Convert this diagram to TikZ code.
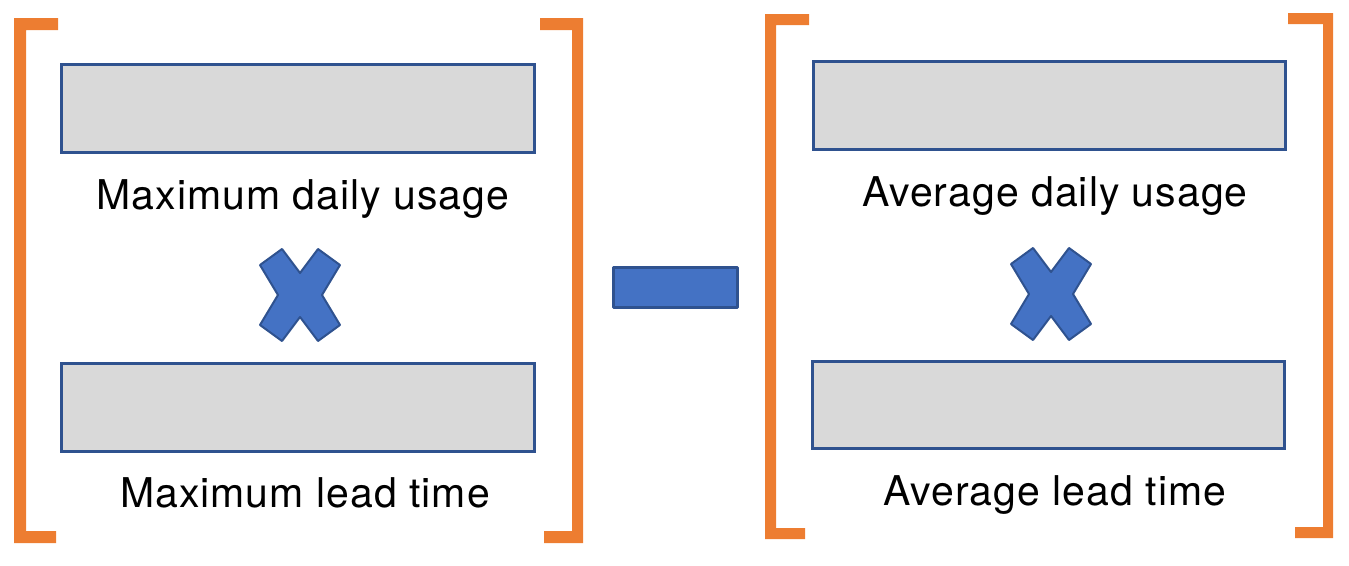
\documentclass[tikz,border=0pt]{standalone}
\usepackage{fontspec}
\setmainfont{TeX Gyre Heros}[LetterSpace=2.5]
\definecolor{brk}{HTML}{ED7D31}
\definecolor{edge}{HTML}{2F528F}
\definecolor{boxfill}{HTML}{D9D9D9}
\definecolor{opfill}{HTML}{4472C4}
\begin{document}
\begin{tikzpicture}[x=1pt,y=-1pt,
  valbox/.style={draw=edge,fill=boxfill,line width=3pt,inner sep=0pt},
  lbl/.style={anchor=base,inner sep=0pt,font=\fontsize{41}{49}\selectfont},
  bracket/.style={fill=brk},
  opshape/.style={fill=opfill,draw=edge,line width=2pt,line join=round}]
\useasboundingbox (0,0) rectangle (1349,565);
% brackets
\fill[bracket] (58,18) -- (14,18) -- (14,543) -- (56,543) -- (56,531) -- (26,531) -- (26,30) -- (58,30) -- cycle;
\fill[bracket] (540,18) -- (583,18) -- (583,543) -- (544,543) -- (544,531) -- (572,531) -- (572,30) -- (540,30) -- cycle;
\fill[bracket] (809,14) -- (765,14) -- (765,539) -- (805,539) -- (805,528) -- (776,528) -- (776,25) -- (809,25) -- cycle;
\fill[bracket] (1288,13) -- (1333,13) -- (1333,538) -- (1295,538) -- (1295,527) -- (1323,527) -- (1323,24) -- (1288,24) -- cycle;
% boxes
\node[valbox,minimum width=473pt,minimum height=88pt] (b1) at (297.5,108) {};
\node[valbox,minimum width=473pt,minimum height=88pt] (b2) at (297.5,407) {};
\node[valbox,minimum width=472pt,minimum height=88pt] (b3) at (1049,105) {};
\node[valbox,minimum width=472pt,minimum height=87pt] (b4) at (1048,404.5) {};
% labels
\node[lbl] (t1) at (303,209) {Maximum daily usage};
\node[lbl] (t2) at (305,507) {Maximum lead time};
\node[lbl] (t3) at (1055,206) {Average daily usage};
\node[lbl] (t4) at (1055,505) {Average lead time};
% multiply signs
\foreach \cx/\cy/\nm in {300/295/m1, 1051/294/m2}{
  \coordinate (\nm) at (\cx,\cy);
  \draw[opshape,shift={(\nm)}] (-40,-30) -- (-18,-46) -- (0,-22) -- (18,-46) -- (40,-30) -- (22,0) -- (40,30) -- (18,46) -- (0,22) -- (-18,46) -- (-40,30) -- (-22,0) -- cycle;
}
% minus sign
\node[opshape,draw=edge,line width=3pt,minimum width=124pt,minimum height=40pt,inner sep=0pt] (minus) at (675,287) {};
\end{tikzpicture}
\end{document}
